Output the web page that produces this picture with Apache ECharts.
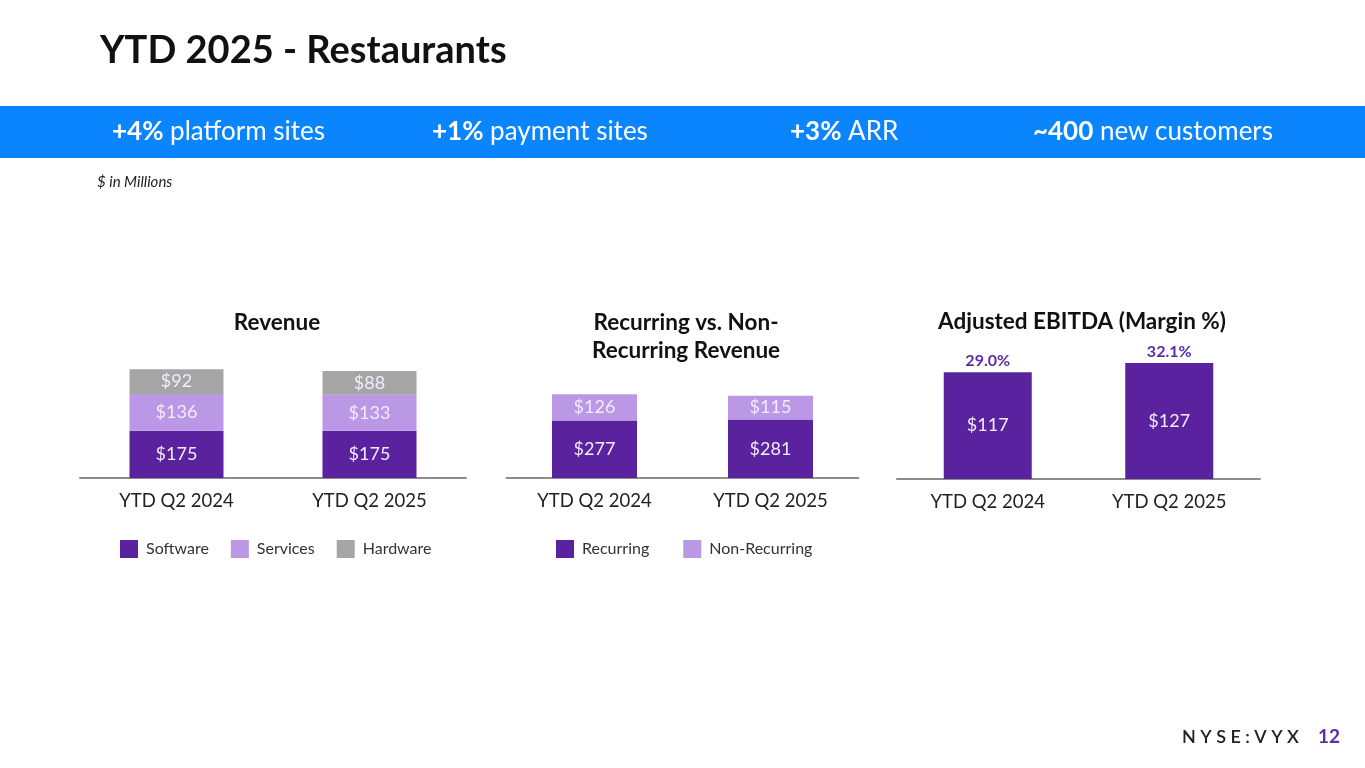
<!DOCTYPE html>
<html>
<head>
<meta charset="utf-8">
<script src="https://cdn.jsdelivr.net/npm/echarts@6/dist/echarts.min.js"></script>
<style>
html,body{margin:0;padding:0;background:#fff;}
#c{width:1365px;height:768px;}
</style>
</head>
<body>
<div id="c"></div>
<script>
const categories = ['YTD Q2 2024', 'YTD Q2 2025'];
const software = [175, 175];
const services = [136, 133];
const hardware = [92, 88];
const recurring = [277, 281];
const nonRecurring = [126, 115];
const ebitda = [117, 127];
const margin = ['29.0%', '32.1%'];

const FONT = 'Lato, "Open Sans", sans-serif';
const C_DARK = '#5B22A0';
const C_LIGHT = '#BB98E6';
const C_GRAY = '#A5A5A5';
const LABEL_C = '#F2ECFA';

const chart = echarts.init(document.getElementById('c'), null, {renderer: 'canvas'});

function xAx(gi) {
  return {
    type: 'category', gridIndex: gi, data: categories,
    axisLine: {show: true, lineStyle: {color: '#8C8C8C', width: 2}},
    axisTick: {show: false},
    axisLabel: {color: '#222', fontSize: 18.5, fontFamily: FONT, margin: 14}
  };
}
function yAx(gi, max) {
  return {type: 'value', gridIndex: gi, min: 0, max: max, show: false, splitLine: {show: false}};
}
function inLabel() {
  return {show: true, position: 'inside', color: LABEL_C, fontSize: 18, fontFamily: FONT,
          formatter: p => '$' + p.value};
}
const TT = {fontSize: 22.5, fontWeight: 'bold', color: '#111', fontFamily: FONT};

const option = {
  animation: false,
  textStyle: {fontFamily: FONT},
  title: [
    {text: 'YTD 2025 - Restaurants', left: 95, top: 27,
     textStyle: {fontSize: 38, fontWeight: 'bold', color: '#111', fontFamily: FONT}},
    {text: 'Revenue', left: 272, top: 306, textAlign: 'center', textStyle: TT},
    {text: 'Recurring vs. Non-\nRecurring Revenue', left: 681, top: 304, textAlign: 'center',
     textStyle: Object.assign({}, TT, {lineHeight: 28})},
    {text: 'Adjusted EBITDA (Margin %)', left: 1077, top: 305, textAlign: 'center', textStyle: TT}
  ],
  legend: [
    {data: ['Software', 'Services', 'Hardware'], left: 115, top: 535, icon: 'rect',
     itemWidth: 18, itemHeight: 18, itemGap: 22,
     textStyle: {fontSize: 16, color: '#333', fontFamily: FONT, padding: [0, 0, 0, 3]}},
    {data: ['Recurring', 'Non-Recurring'], left: 551, top: 535, icon: 'rect',
     itemWidth: 18, itemHeight: 18, itemGap: 34,
     textStyle: {fontSize: 16, color: '#333', fontFamily: FONT, padding: [0, 0, 0, 3]}}
  ],
  grid: [
    {left: 80, width: 386, top: 343, height: 135},
    {left: 506.5, width: 352, top: 374, height: 104},
    {left: 897, width: 363, top: 342, height: 137}
  ],
  xAxis: [xAx(0), xAx(1), xAx(2)],
  yAxis: [yAx(0, 500), yAx(1, 500), yAx(2, 150)],
  series: [
    {name: 'Software', type: 'bar', stack: 'rev', xAxisIndex: 0, yAxisIndex: 0, data: software,
     barWidth: 94, itemStyle: {color: C_DARK}, label: inLabel()},
    {name: 'Services', type: 'bar', stack: 'rev', xAxisIndex: 0, yAxisIndex: 0, data: services,
     barWidth: 94, itemStyle: {color: C_LIGHT}, label: inLabel()},
    {name: 'Hardware', type: 'bar', stack: 'rev', xAxisIndex: 0, yAxisIndex: 0, data: hardware,
     barWidth: 94, itemStyle: {color: C_GRAY}, label: inLabel()},
    {name: 'Recurring', type: 'bar', stack: 'rec', xAxisIndex: 1, yAxisIndex: 1, data: recurring,
     barWidth: 85, itemStyle: {color: C_DARK}, label: inLabel()},
    {name: 'Non-Recurring', type: 'bar', stack: 'rec', xAxisIndex: 1, yAxisIndex: 1, data: nonRecurring,
     barWidth: 85, itemStyle: {color: C_LIGHT}, label: inLabel()},
    {name: 'Adjusted EBITDA', type: 'bar', xAxisIndex: 2, yAxisIndex: 2, data: ebitda,
     barWidth: 88, itemStyle: {color: C_DARK}, label: inLabel()},
    {name: 'Margin', type: 'bar', xAxisIndex: 2, yAxisIndex: 2, data: ebitda,
     barWidth: 88, barGap: '-100%', itemStyle: {color: 'transparent'}, silent: true,
     label: {show: true, position: 'top', distance: 3, color: '#5B2DA8', fontSize: 16,
             fontWeight: 'bold', fontFamily: FONT,
             formatter: p => margin[p.dataIndex]}}
  ],
  graphic: [
    {type: 'rect', left: 0, top: 106, shape: {width: 1365, height: 52}, style: {fill: '#0A85FE'}, z: 0},
    {type: 'text', left: 112, top: 119, z: 2,
     style: {text: '{b|+4%} platform sites', fill: '#fff', font: '26px ' + FONT,
             rich: {b: {fontWeight: 'bold', fontSize: 26, fill: '#fff', fontFamily: FONT}}}},
    {type: 'text', left: 432, top: 119, z: 2,
     style: {text: '{b|+1%} payment sites', fill: '#fff', font: '26px ' + FONT,
             rich: {b: {fontWeight: 'bold', fontSize: 26, fill: '#fff', fontFamily: FONT}}}},
    {type: 'text', left: 790, top: 119, z: 2,
     style: {text: '{b|+3%} ARR', fill: '#fff', font: '26px ' + FONT,
             rich: {b: {fontWeight: 'bold', fontSize: 26, fill: '#fff', fontFamily: FONT}}}},
    {type: 'text', right: 92, top: 119, z: 2,
     style: {text: '{b|~400} new customers', fill: '#fff', font: '26px ' + FONT,
             rich: {b: {fontWeight: 'bold', fontSize: 26, fill: '#fff', fontFamily: FONT}}}},
    {type: 'text', left: 97, top: 175, z: 2,
     style: {text: '$ in Millions', fill: '#222', font: 'italic 15px ' + FONT}},
    {type: 'text', right: 66, top: 728, z: 2,
     style: {text: 'N Y S E : V Y X', fill: '#222', font: '600 18px ' + FONT}},
    {type: 'text', right: 25, top: 727, z: 2,
     style: {text: '12', fill: '#5B2DA8', font: 'bold 19px ' + FONT}}
  ]
};
chart.setOption(option);
</script>
</body>
</html>
